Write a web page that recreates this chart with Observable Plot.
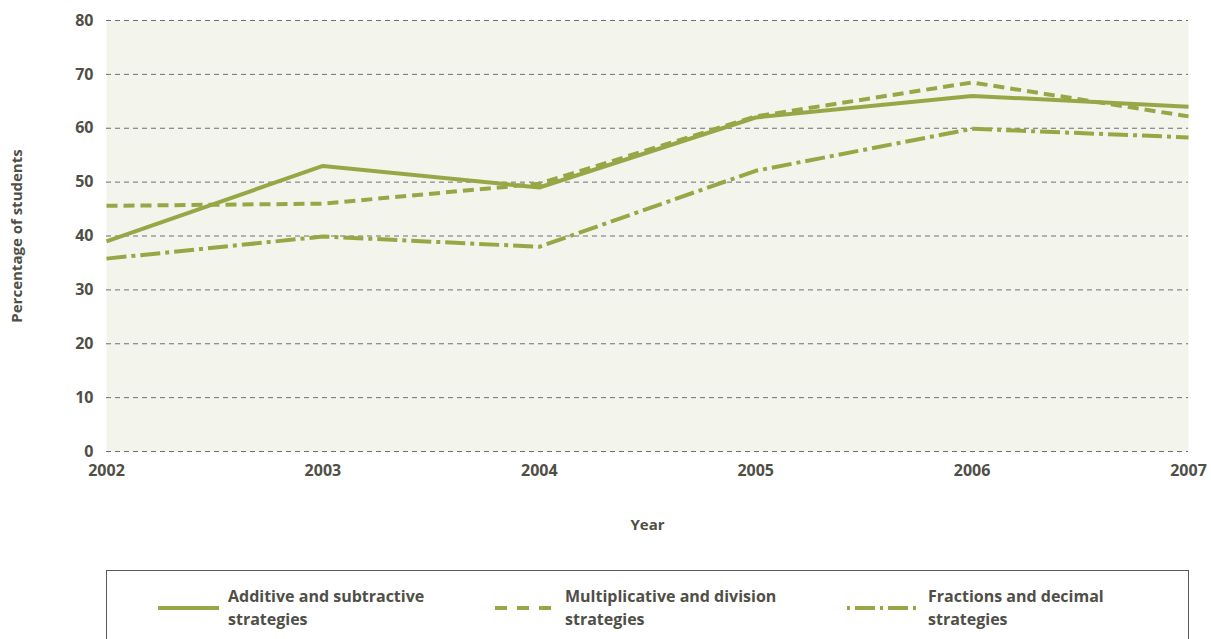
<!DOCTYPE html>
<html>
<head>
<meta charset="utf-8">
<script src="https://cdn.jsdelivr.net/npm/d3@7"></script>
<script src="https://cdn.jsdelivr.net/npm/@observablehq/plot@0.6"></script>
<style>
  body { margin: 0; background: #fff; font-family: "Open Sans", "Noto Sans", sans-serif; }
  #wrap { position: relative; width: 1211px; height: 639px; overflow: hidden; }
  #legend { position: absolute; left: 106px; top: 570px; width: 1083px; height: 80px; border: 1px solid #5a5a52; box-sizing: border-box; }
  .item { position: absolute; top: 14px; display: flex; align-items: center; }
  .item svg { display: block; }
  .item span { font-size: 16px; font-weight: 700; color: #4f4f47; line-height: 23px; margin-left: 9px; }
</style>
</head>
<body>
<div id="wrap">
  <div id="chart"></div>
  <div id="legend"></div>
</div>
<script>
const years = [2002, 2003, 2004, 2005, 2006, 2007];
const seriesNames = ["Additive and subtractive strategies", "Multiplicative and division strategies", "Fractions and decimal strategies"];
const additive = [39, 53, 49, 62, 66, 64];
const multiplicative = [45.6, 46, 49.7, 62.2, 68.5, 62.2];
const fractions = [35.8, 39.9, 38, 52.1, 59.9, 58.3];
const yTicks = [0, 10, 20, 30, 40, 50, 60, 70, 80];
const lineColor = "#96a846";
const dashes = [null, "11,6", "20,5,4,5"];

const allSeries = [additive, multiplicative, fractions];
const data = allSeries.flatMap((vals, i) => vals.map((v, j) => ({series: seriesNames[i], year: years[j], value: v})));

const font = '"Open Sans", "Noto Sans", sans-serif';
const chart = Plot.plot({
  width: 1211,
  height: 560,
  marginLeft: 106,
  marginRight: 23,
  marginTop: 20,
  marginBottom: 109,
  style: {fontFamily: font, fontSize: "16px", fontWeight: 700, color: "#4f4f47", background: "white"},
  x: {domain: [2002, 2007]},
  y: {domain: [0, 80]},
  marks: [
    Plot.frame({fill: "#f3f4ec", stroke: null}),
    Plot.gridY(yTicks, {stroke: "#707070", strokeOpacity: 1, strokeDasharray: "5,4", strokeWidth: 1}),
    Plot.axisY(yTicks, {tickSize: 0, tickPadding: 13, fontSize: 16, label: "Percentage of students", labelAnchor: "center", labelOffset: 95}),
    Plot.axisX(years, {tickSize: 0, tickPadding: 13, tickFormat: d => String(d), fontSize: 16, label: "Year", labelAnchor: "center", labelOffset: 78}),
    ...seriesNames.map((name, i) =>
      Plot.line(data.filter(d => d.series === name), {x: "year", y: "value", stroke: lineColor, strokeWidth: 4, strokeDasharray: dashes[i], strokeLinejoin: "miter", strokeLinecap: "butt"})
    )
  ]
});
document.getElementById("chart").appendChild(chart);
// axis label font and strip arrows
chart.querySelectorAll("[aria-label='y-axis label'] text, [aria-label='x-axis label'] text").forEach(t => {
  t.setAttribute("font-size", "15");
  t.querySelectorAll("tspan").forEach(s => { s.textContent = s.textContent.replace(/\s*[→↑←↓]\s*/g, ""); });
  if (!t.querySelector("tspan")) t.textContent = t.textContent.replace(/\s*[→↑←↓]\s*/g, "");
});

const legend = document.getElementById("legend");
const legendPos = [{left: 51, w: 61}, {left: 388, w: 61}, {left: 740, w: 72}];
seriesNames.forEach((name, i) => {
  const words = name.split(" ");
  const last = words.pop();
  const div = document.createElement("div");
  div.className = "item";
  div.style.left = legendPos[i].left + "px";
  const w = legendPos[i].w;
  div.innerHTML = `<svg width="${w}" height="8"><line x1="0" x2="${w}" y1="4" y2="4" stroke="${lineColor}" stroke-width="4" ${dashes[i] ? `stroke-dasharray="${i===1 ? "12,10" : "3,5,20,5"}"` : ""}/></svg><span>${words.join(" ")}<br>${last}</span>`;
  legend.appendChild(div);
});
</script>
</body>
</html>
